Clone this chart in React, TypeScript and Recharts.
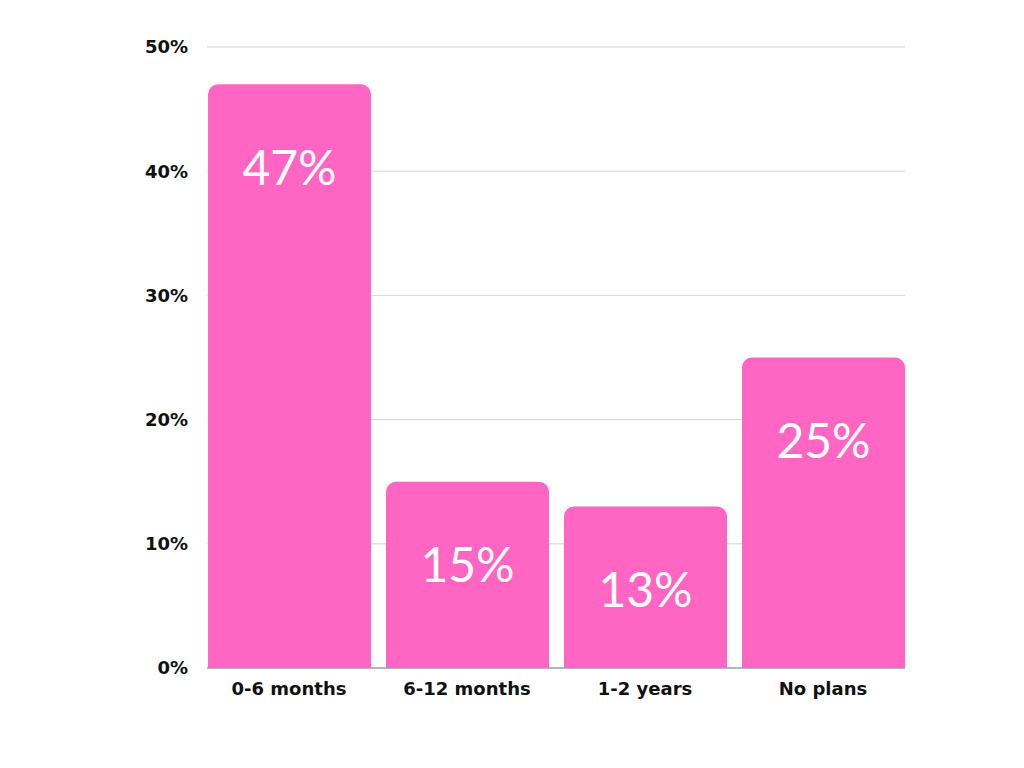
import React from 'react';
import { BarChart, Bar, XAxis, YAxis, CartesianGrid, LabelList } from 'recharts';

const categories = ['0-6 months', '6-12 months', '1-2 years', 'No plans'];
const shares = [47, 15, 13, 25];
const yTicks = [0, 10, 20, 30, 40, 50];

const data = categories.map((name, i) => ({ name, value: shares[i] }));

const TICK_FONT = '"DejaVu Sans", sans-serif';
const VALUE_FONT = 'Lato, "Noto Sans", sans-serif';
const PINK = '#FF66C4';

const renderValue = (props: any) => {
    const { x, y, width, value } = props;
    return (
        <text
            x={x + width / 2}
            y={y + 82}
            textAnchor="middle"
            dominantBaseline="central"
            fill="#ffffff"
            style={{ fontFamily: VALUE_FONT, fontSize: 48, fontWeight: 400 }}
        >
            {`${value}%`}
        </text>
    );
};

// trim gridlines so they run flush with the outer bar edges; the baseline is darker
const gridLine = (props: any) => {
    const { x1, x2, y1, y2, key } = props;
    const isBase = y1 > 655;
    return (
        <line
            key={key}
            x1={x1 + 7}
            x2={x2 - 7}
            y1={y1}
            y2={y2}
            stroke={isBase ? '#b5b5b5' : '#d6d6d6'}
            strokeWidth={isBase ? 2 : 1}
        />
    );
};

export default function App() {
    return (
        <div style={{ width: 1008, height: 752 }}>
            <BarChart
                width={1008}
                height={752}
                data={data}
                margin={{ top: 39, right: 104, bottom: 62, left: 0 }}
            >
                <CartesianGrid vertical={false} horizontal={gridLine} />
                <XAxis
                    dataKey="name"
                    height={30}
                    axisLine={false}
                    tickLine={false}
                    tickSize={0}
                    tickMargin={14}
                    tick={{ fill: '#111', fontFamily: TICK_FONT, fontSize: 18, fontWeight: 700 }}
                />
                <YAxis
                    width={192}
                    domain={[0, 50]}
                    ticks={yTicks}
                    tickFormatter={(v: number) => `${v}%`}
                    axisLine={false}
                    tickLine={false}
                    tickSize={0}
                    tickMargin={12}
                    tick={{ fill: '#111', fontFamily: TICK_FONT, fontSize: 18, fontWeight: 700 }}
                />
                <Bar dataKey="value" fill={PINK} barSize={163} radius={[10, 10, 0, 0]} isAnimationActive={false}>
                    <LabelList dataKey="value" content={renderValue} />
                </Bar>
            </BarChart>
        </div>
    );
}
